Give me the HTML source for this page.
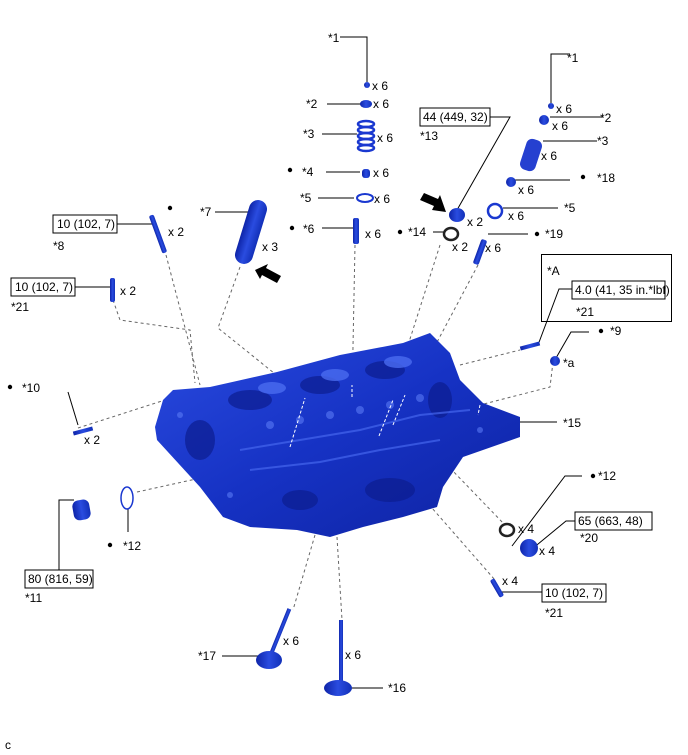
<!DOCTYPE html>
<html><head><style>
html,body{margin:0;padding:0;background:#fff;}
svg{display:block;}
text{font-family:"Liberation Sans",sans-serif;font-size:12px;fill:#000;}
</style></head><body>
<svg width="688" height="755" viewBox="0 0 688 755" xmlns="http://www.w3.org/2000/svg">
<defs>
<linearGradient id="hg" x1="0" y1="0" x2="1" y2="1">
<stop offset="0" stop-color="#2a4be0"/><stop offset="0.5" stop-color="#1632c4"/><stop offset="1" stop-color="#0e22a0"/>
</linearGradient>
<linearGradient id="cg" x1="0" y1="0" x2="1" y2="0">
<stop offset="0" stop-color="#0e24a8"/><stop offset="0.5" stop-color="#2a4ce0"/><stop offset="1" stop-color="#1230b8"/>
</linearGradient>
</defs>

<g stroke="#666" stroke-width="1" stroke-dasharray="3,3" fill="none">
<polyline points="166,255 200,385"/>
<polyline points="113,300 120,320 190,330 195,383"/>
<polyline points="240,267 218,328 305,398 290,447"/>
<polyline points="355,245 352,397"/>
<polyline points="440,245 379,436"/>
<polyline points="478,265 393,425"/>
<polyline points="460,365 520,350"/>
<polyline points="553,362 550,387 480,405"/>
<polyline points="78,428 165,400"/>
<polyline points="137,492 205,477"/>
<polyline points="450,468 505,525"/>
<polyline points="425,500 495,580"/>
<polyline points="315,535 293,610"/>
<polyline points="337,537 342,620"/>
</g>

<polygon fill="url(#hg)" points="163,400 173,390 210,387 277,372 340,355 403,343 430,333 450,353 460,380 483,403 520,417 520,437 483,450 463,457 443,487 437,507 403,517 363,527 330,537 297,530 250,527 223,517 200,487 157,440 155,427"/>
<g fill="#0c1d90" opacity="0.7">
<ellipse cx="250" cy="400" rx="22" ry="10"/>
<ellipse cx="320" cy="385" rx="20" ry="9"/>
<ellipse cx="385" cy="370" rx="20" ry="9"/>
<ellipse cx="390" cy="490" rx="25" ry="12"/>
<ellipse cx="200" cy="440" rx="15" ry="20"/>
<ellipse cx="440" cy="400" rx="12" ry="18"/>
<ellipse cx="300" cy="500" rx="18" ry="10"/>
</g>
<g fill="#4a6cf0" opacity="0.8">
<ellipse cx="272" cy="388" rx="14" ry="6"/>
<ellipse cx="335" cy="375" rx="14" ry="6"/>
<ellipse cx="398" cy="362" rx="14" ry="6"/>
</g>
<g fill="#5a7af5" opacity="0.6">
<circle cx="300" cy="420" r="4"/><circle cx="330" cy="415" r="4"/><circle cx="360" cy="410" r="4"/>
<circle cx="390" cy="405" r="4"/><circle cx="420" cy="398" r="4"/><circle cx="270" cy="425" r="4"/>
<circle cx="180" cy="415" r="3"/><circle cx="230" cy="495" r="3"/><circle cx="480" cy="430" r="3"/>
</g>
<g stroke="#4566ee" stroke-width="2" fill="none" opacity="0.7">
<polyline points="240,450 300,440 360,430 420,415 470,410"/>
<polyline points="250,470 320,462 380,450 440,440"/>
</g>
<g stroke="#fff" stroke-width="1" stroke-dasharray="3,2" fill="none">
<polyline points="290,447 305,398"/>
<polyline points="352,397 352,385"/>
<polyline points="379,436 393,400"/>
<polyline points="393,425 405,395"/>
<polyline points="480,405 478,415"/>
</g>

<g stroke="#000" stroke-width="1" fill="none">
<polyline points="340,37 367,37 367,82"/>
<line x1="327" y1="104" x2="362" y2="104"/>
<line x1="322" y1="134" x2="357" y2="134"/>
<line x1="326" y1="172" x2="360" y2="172"/>
<line x1="318" y1="198" x2="354" y2="198"/>
<line x1="322" y1="228" x2="355" y2="228"/>
<line x1="215" y1="212" x2="252" y2="212"/>
<line x1="117" y1="224" x2="153" y2="224"/>
<line x1="75" y1="287" x2="110" y2="287"/>
<polyline points="490,117 510,117 457,210"/>
<polyline points="570,54 551,54 551,103"/>
<line x1="550" y1="117" x2="603" y2="117"/>
<line x1="543" y1="141" x2="597" y2="141"/>
<line x1="514" y1="180" x2="570" y2="180"/>
<line x1="503" y1="208" x2="558" y2="208"/>
<line x1="433" y1="232" x2="445" y2="232"/>
<line x1="488" y1="234" x2="528" y2="234"/>
<polyline points="572,289 559,289 538,345"/>
<polyline points="589,332 571,332 556,358"/>
<line x1="68" y1="392" x2="78" y2="425"/>
<line x1="520" y1="422" x2="557" y2="422"/>
<polyline points="582,476 565,476 512,546"/>
<polyline points="575,521 566,521 532,549"/>
<line x1="500" y1="592" x2="542" y2="592"/>
<polyline points="74,500 59,500 59,570"/>
<line x1="128" y1="508" x2="128" y2="532"/>
<line x1="222" y1="656" x2="258" y2="656"/>
<line x1="348" y1="688" x2="383" y2="688"/>
</g>

<g stroke="#000" stroke-width="1" fill="#fff">
<rect x="53" y="215" width="64" height="18"/>
<rect x="11" y="278" width="64" height="18"/>
<rect x="420" y="108" width="70" height="18"/>
<rect x="541.5" y="254.5" width="130" height="67" fill="none"/>
<rect x="572" y="281" width="93" height="18"/>
<rect x="575" y="512" width="77" height="18"/>
<rect x="542" y="584" width="64" height="18"/>
<rect x="25" y="570" width="68" height="18"/>
</g>

<g fill="url(#cg)">
<circle cx="367" cy="85" r="3"/>
<ellipse cx="366" cy="104" rx="6" ry="4"/>
<rect x="362" y="169" width="8" height="9" rx="3"/>
<rect x="353" y="218" width="6" height="26" rx="2"/>
<rect x="-9" y="-33" width="18" height="66" rx="9" transform="translate(251,232) rotate(17)"/>
<rect x="-2.5" y="-20" width="5" height="40" rx="2" transform="translate(158,234) rotate(-20)"/>
<rect x="110" y="278" width="5" height="24" rx="2"/>
<ellipse cx="457" cy="215" rx="8" ry="7"/>
<circle cx="551" cy="106" r="3"/>
<circle cx="544" cy="120" r="5"/>
<ellipse cx="511" cy="182" rx="5" ry="5"/>
<rect x="-3" y="-13" width="6" height="26" rx="2" transform="translate(480,252) rotate(20)"/>
<rect x="-10" y="-2" width="20" height="4" transform="translate(530,346) rotate(-15)"/>
<circle cx="555" cy="361" r="5"/>
<rect x="-10" y="-2" width="20" height="4" transform="translate(83,431) rotate(-15)"/>
<rect x="-8" y="-10" width="17" height="20" rx="6" transform="translate(81,510) rotate(-10)"/>
<ellipse cx="529" cy="548" rx="9" ry="9"/>
<rect x="-2.5" y="-10" width="5" height="20" rx="2" transform="translate(497,588) rotate(-30)"/>
<rect x="-2" y="-25" width="4" height="50" transform="translate(280,632) rotate(22)"/>
<ellipse cx="269" cy="660" rx="13" ry="9"/>
<rect x="339" y="620" width="4" height="62"/>
<ellipse cx="338" cy="688" rx="14" ry="8"/>
</g>
<g stroke="#1a38d0" stroke-width="2.5" fill="none">
<ellipse cx="366" cy="124" rx="8" ry="3"/><ellipse cx="366" cy="130" rx="8" ry="3"/>
<ellipse cx="366" cy="136" rx="8" ry="3"/><ellipse cx="366" cy="142" rx="8" ry="3"/>
<ellipse cx="366" cy="148" rx="8" ry="3"/>
</g>
<rect x="-8" y="-16" width="16" height="32" rx="6" transform="translate(531,155) rotate(18)" fill="#2540d0"/>
<g fill="none">
<ellipse cx="365" cy="198" rx="8" ry="4" stroke="#1a38d0" stroke-width="2"/>
<ellipse cx="495" cy="211" rx="7" ry="7" stroke="#1a38d0" stroke-width="2.5"/>
<ellipse cx="451" cy="234" rx="7" ry="6" stroke="#222" stroke-width="2.5"/>
<ellipse cx="507" cy="530" rx="7" ry="6" stroke="#222" stroke-width="2.5"/>
<ellipse cx="127" cy="498" rx="6" ry="11" stroke="#1a38d0" stroke-width="1.5"/>
</g>
<polygon points="255,270 268,264 266,268 281,276 277,283 262,275 260,279" fill="#000"/>
<polygon points="446,212 432,210 434,206 420,200 424,193 438,199 440,195" fill="#000"/>

<g fill="#000">
<circle cx="290" cy="170" r="2.2"/><circle cx="170" cy="208" r="2.2"/>
<circle cx="292" cy="228" r="2.2"/><circle cx="400" cy="232" r="2.2"/>
<circle cx="537" cy="234" r="2.2"/><circle cx="583" cy="177" r="2.2"/>
<circle cx="601" cy="331" r="2.2"/><circle cx="10" cy="387" r="2.2"/>
<circle cx="593" cy="476" r="2.2"/><circle cx="110" cy="545" r="2.2"/>
</g>

<text x="328" y="42">*1</text>
<text x="372" y="90">x 6</text>
<text x="306" y="108">*2</text><text x="373" y="108">x 6</text>
<text x="303" y="138">*3</text><text x="377" y="142">x 6</text>
<text x="302" y="176">*4</text><text x="373" y="177">x 6</text>
<text x="300" y="202">*5</text><text x="374" y="203">x 6</text>
<text x="303" y="233">*6</text><text x="365" y="238">x 6</text>
<text x="200" y="216">*7</text><text x="262" y="251">x 3</text>
<text x="57" y="228" font-size="11">10 (102, 7)</text>
<text x="168" y="236">x 2</text><text x="53" y="250">*8</text>
<text x="15" y="291" font-size="11">10 (102, 7)</text>
<text x="120" y="295">x 2</text><text x="11" y="311">*21</text>
<text x="423" y="121" font-size="11">44 (449, 32)</text>
<text x="420" y="140">*13</text><text x="467" y="226">x 2</text>
<text x="567" y="62">*1</text><text x="556" y="113">x 6</text>
<text x="600" y="122">*2</text><text x="552" y="130">x 6</text>
<text x="597" y="145">*3</text><text x="541" y="160">x 6</text>
<text x="597" y="182">*18</text><text x="518" y="194">x 6</text>
<text x="564" y="212">*5</text><text x="508" y="220">x 6</text>
<text x="408" y="236">*14</text><text x="452" y="251">x 2</text>
<text x="545" y="238">*19</text><text x="485" y="252">x 6</text>
<text x="547" y="275" font-size="16">*A</text>
<text x="575" y="294" font-size="11">4.0 (41, 35 in.*lbf)</text>
<text x="576" y="316">*21</text>
<text x="610" y="335">*9</text><text x="563" y="367">*a</text>
<text x="22" y="392">*10</text><text x="84" y="444">x 2</text>
<text x="563" y="427">*15</text>
<text x="598" y="480">*12</text>
<text x="518" y="533">x 4</text>
<text x="578" y="525" font-size="11">65 (663, 48)</text>
<text x="539" y="555">x 4</text><text x="580" y="542">*20</text>
<text x="502" y="585">x 4</text>
<text x="545" y="597" font-size="11">10 (102, 7)</text>
<text x="545" y="617">*21</text>
<text x="123" y="550">*12</text>
<text x="28" y="583" font-size="11">80 (816, 59)</text>
<text x="25" y="602">*11</text>
<text x="198" y="660">*17</text><text x="283" y="645">x 6</text>
<text x="388" y="692">*16</text><text x="345" y="659">x 6</text>
<text x="5" y="749" font-size="10">c</text>
</svg>
</body></html>
